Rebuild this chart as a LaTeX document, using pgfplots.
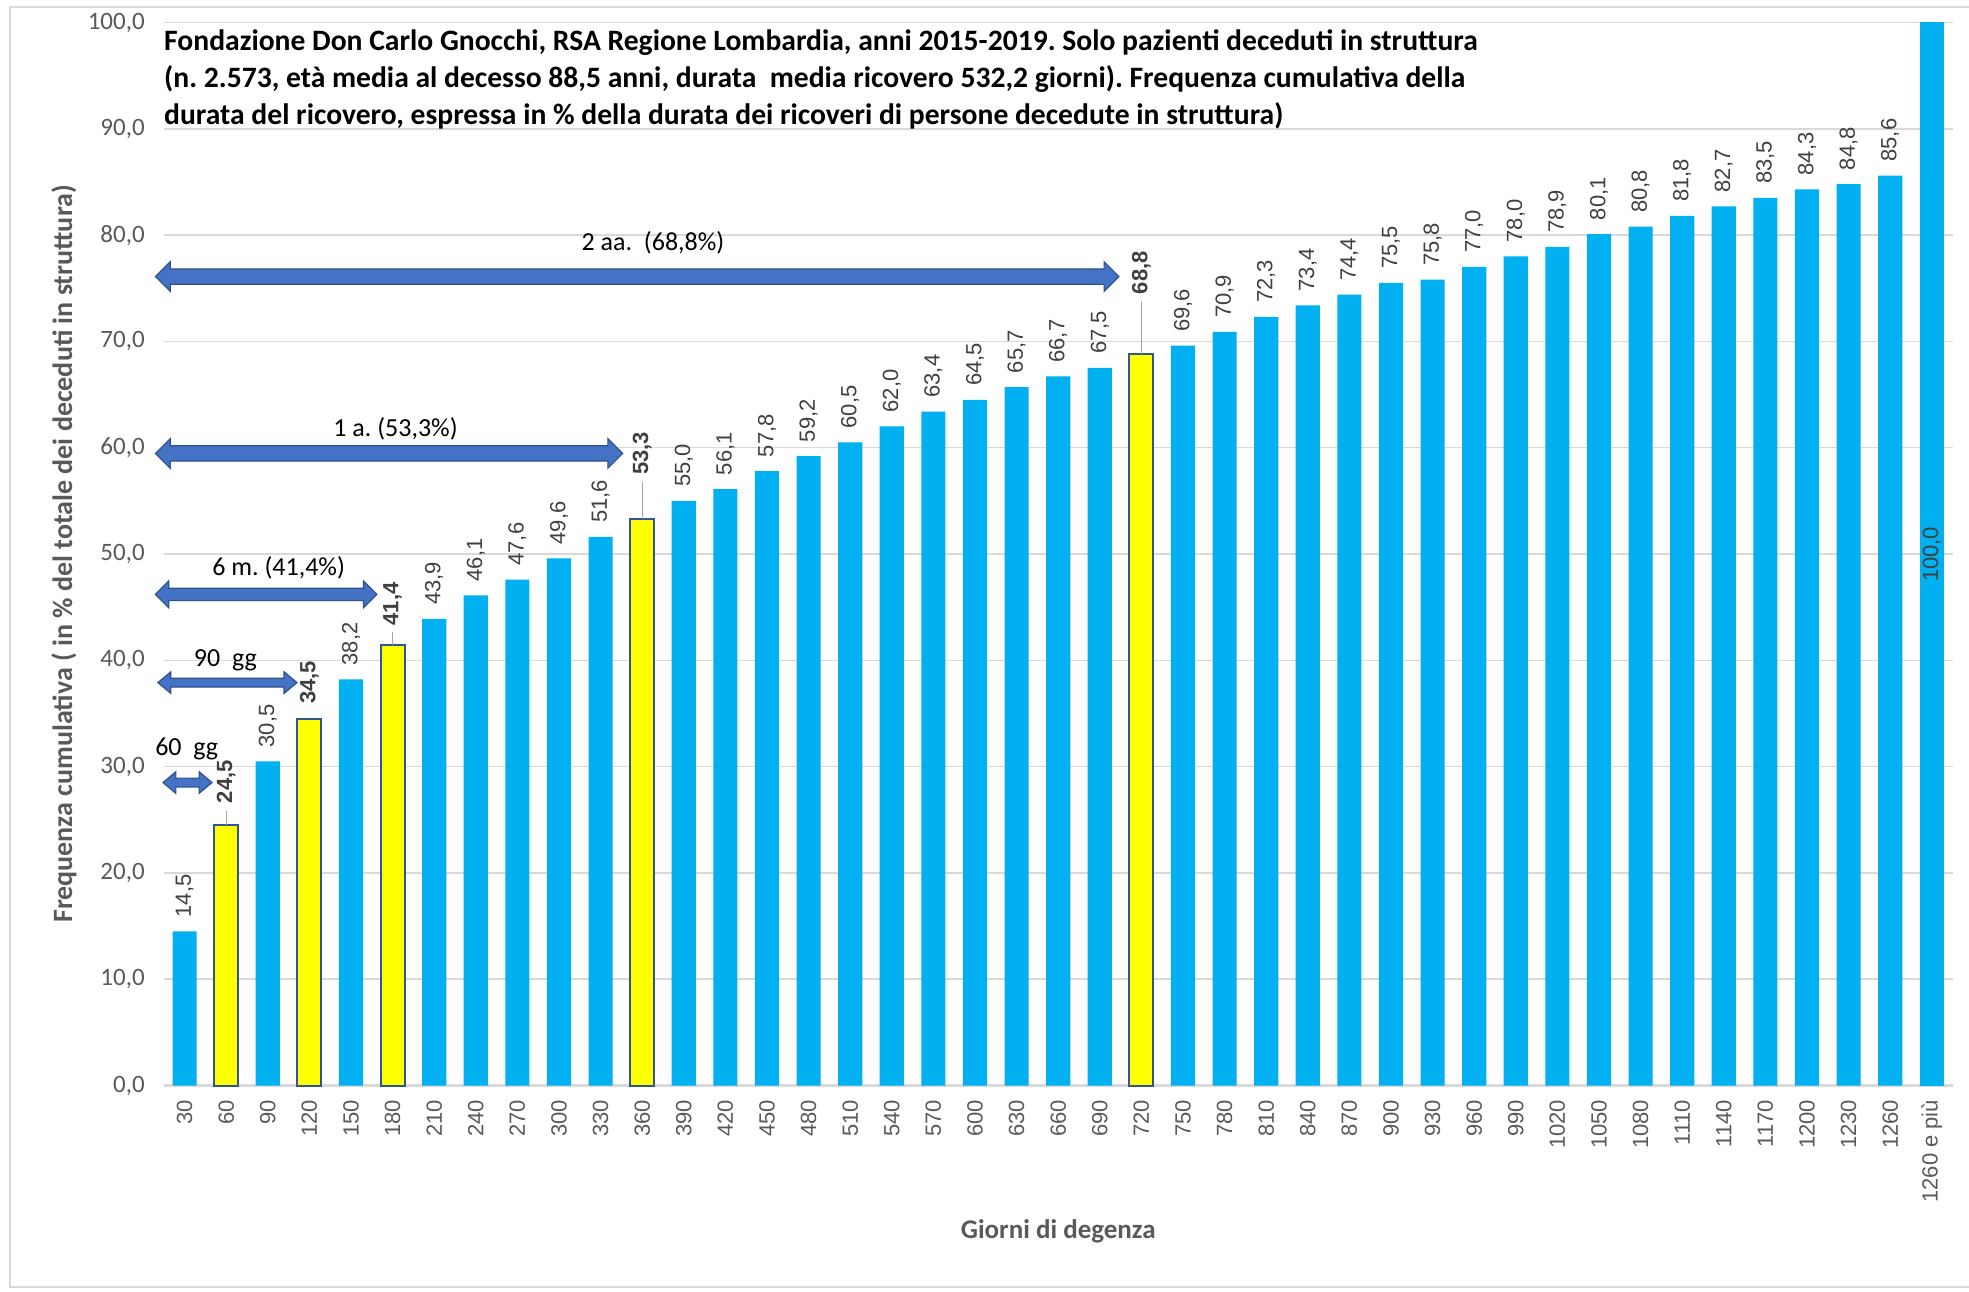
\documentclass[border=0pt]{standalone}
\usepackage{fontspec}
\setmainfont{Carlito}
\newfontfamily\arialf{Liberation Sans}
\usepackage{pgfplots}
\pgfplotsset{compat=1.18}
\usetikzlibrary{shapes.arrows}
\definecolor{barblue}{HTML}{00B0F0}
\definecolor{baryellow}{HTML}{FFFF00}
\definecolor{ydark}{HTML}{2F5597}
\definecolor{arrowblue}{HTML}{4472C4}
\definecolor{arrowdark}{HTML}{2F528F}
\definecolor{gridgray}{HTML}{D9D9D9}
\definecolor{tickgray}{HTML}{595959}
\definecolor{labgray}{HTML}{404040}
\definecolor{leadgray}{HTML}{A6A6A6}
\pgfkeys{/pgf/number format/.cd, assume math mode=true}
\frenchspacing
\newcommand{\numfmt}{\pgfmathprintnumber[fixed,fixed zerofill,precision=1,use comma]{\pgfplotspointmeta}}
\newcommand{\yellowbar}[3]{%
  \addplot[ybar, bar shift=0pt, bar width=0.58, fill=baryellow, draw=ydark, line width=1pt,
    nodes near coords={\numfmt},
    every node near coord/.append style={rotate=90, anchor=west, inner xsep=#3, inner ysep=0pt,
      font=\arialf\bfseries\fontsize{11}{13}\selectfont, text=labgray}]
    coordinates {(#1,#2)};}
\newcommand{\dblarrow}[6]{% cx, cy, length, half shaft, head extend, tip angle
  \node[double arrow, draw=arrowdark, fill=arrowblue, line width=0.6pt, inner xsep=0pt,
    inner ysep=#4, double arrow head extend=#5, minimum height=#3, double arrow tip angle=#6,
    anchor=center] at (axis cs:#1,#2) {};}
\newcommand{\leader}[3]{%
  \draw[leadgray, line width=0.6pt] (axis cs:#1,#2) -- ([yshift=#3]axis cs:#1,#2);}
\begin{document}
\begin{tikzpicture}
\useasboundingbox (0,0) rectangle (984.5pt,645.5pt);
\draw[gridgray, line width=1pt] (995pt,642pt) -- (5pt,642pt) -- (5pt,2pt) -- (995pt,2pt);
\begin{axis}[
  at={(81.9pt,102.75pt)}, anchor=south west,
  scale only axis, width=894.4pt, height=531.5pt,
  xmin=-0.5, xmax=42.5, ymin=0, ymax=100,
  enlargelimits=false, clip=false,
  axis line style={draw=none},
  tick style={draw=none},
  ytick={0,10,...,100},
  ymajorgrids, grid style={gridgray, line width=0.8pt},
  yticklabel={\pgfmathprintnumber[fixed,fixed zerofill,precision=1,use comma]{\tick}},
  yticklabel style={font=\fontsize{12.5}{14}\selectfont, text=tickgray, xshift=-6pt},
  xtick={0,...,42},
  xticklabels={30,60,90,120,150,180,210,240,270,300,330,360,390,420,450,480,510,540,570,600,630,660,690,720,750,780,810,840,870,900,930,960,990,1020,1050,1080,1110,1140,1170,1200,1230,1260,1260 e più},
  xticklabel style={font=\arialf\fontsize{11}{13}\selectfont, text=tickgray, rotate=90, anchor=east, inner xsep=7pt},
  xlabel={Giorni di degenza},
  ylabel={Frequenza cumulativa ( in \% del totale dei deceduti in struttura)},
  every axis x label/.style={at={(rel axis cs:0.5,-0.1374)}, anchor=center,
    font=\bfseries\fontsize{13.5}{16}\selectfont, text=tickgray},
  every axis y label/.style={at={(rel axis cs:-0.0559,0.5)}, rotate=90, anchor=center,
    font=\bfseries\fontsize{14}{16}\selectfont, text=tickgray},
]
\draw[gridgray, line width=1.2pt] (axis cs:-0.5,0) -- (axis cs:42.5,0);

\addplot[ybar, bar shift=0pt, bar width=0.58, fill=barblue, draw=none,
  nodes near coords={\numfmt},
  every node near coord/.append style={rotate=90, anchor=west, inner xsep=6.8pt, inner ysep=0pt,
    font=\arialf\fontsize{11}{13}\selectfont, text=labgray}]
coordinates {
(0,14.5) (2,30.5) (4,38.2) (6,43.9) (7,46.1) (8,47.6) (9,49.6) (10,51.6)
(12,55.0) (13,56.1) (14,57.8) (15,59.2) (16,60.5) (17,62.0) (18,63.4) (19,64.5)
(20,65.7) (21,66.7) (22,67.5) (24,69.6) (25,70.9) (26,72.3) (27,73.4) (28,74.4)
(29,75.5) (30,75.8) (31,77.0) (32,78.0) (33,78.9) (34,80.1) (35,80.8) (36,81.8)
(37,82.7) (38,83.5) (39,84.3) (40,84.8) (41,85.6)
};

\addplot[ybar, bar shift=0pt, bar width=0.58, fill=barblue, draw=none,
  nodes near coords={\numfmt},
  every node near coord/.append style={rotate=90, anchor=east, inner xsep=252pt, inner ysep=0pt,
    font=\arialf\fontsize{11}{13}\selectfont, text=labgray}]
coordinates {(42,100.0)};

\yellowbar{1}{24.5}{10.5pt}
\yellowbar{3}{34.5}{7pt}
\yellowbar{5}{41.4}{9.5pt}
\yellowbar{11}{53.3}{21.5pt}
\yellowbar{23}{68.8}{29.5pt}

\leader{1}{24.5}{7pt}
\leader{5}{41.4}{6.5pt}
\leader{11}{53.3}{18.5pt}
\leader{23}{68.8}{26.5pt}

\dblarrow{10.88}{76.1}{481.7pt}{3.5pt}{3.6pt}{90}
\dblarrow{4.915}{59.46}{233.6pt}{3.5pt}{3.6pt}{90}
\dblarrow{1.96}{46.2}{110.7pt}{2.8pt}{3.6pt}{90}
\dblarrow{1.03}{37.9}{69.5pt}{1.9pt}{3.2pt}{80}
\dblarrow{0.07}{28.5}{24.5pt}{1.9pt}{3.2pt}{80}

\node[font=\fontsize{13}{15}\selectfont] at (axis cs:11.26,79.3) {2 aa.\ \ (68,8\%)};
\node[font=\fontsize{13}{15}\selectfont] at (axis cs:5.07,61.8) {1 a. (53,3\%)};
\node[font=\fontsize{13}{15}\selectfont] at (axis cs:2.26,48.7) {6 m. (41,4\%)};
\node[font=\fontsize{13}{15}\selectfont] at (axis cs:0.98,40.0) {90\ \ gg};
\node[font=\fontsize{13}{15}\selectfont] at (axis cs:0.05,31.7) {60\ \ gg};

\node[anchor=north west, inner sep=0pt, align=left, font=\bfseries\fontsize{14.8}{18.4}\selectfont]
  at ([yshift=-3.5pt]rel axis cs:0,1)
  {Fondazione Don Carlo Gnocchi, RSA Regione Lombardia, anni 2015-2019. Solo pazienti deceduti in struttura\\
   (n. 2.573, età media al decesso 88,5 anni, durata\ \ media ricovero 532,2 giorni). Frequenza cumulativa della\\
   durata del ricovero, espressa in \% della durata dei ricoveri di persone decedute in struttura)};
\end{axis}
\end{tikzpicture}
\end{document}
